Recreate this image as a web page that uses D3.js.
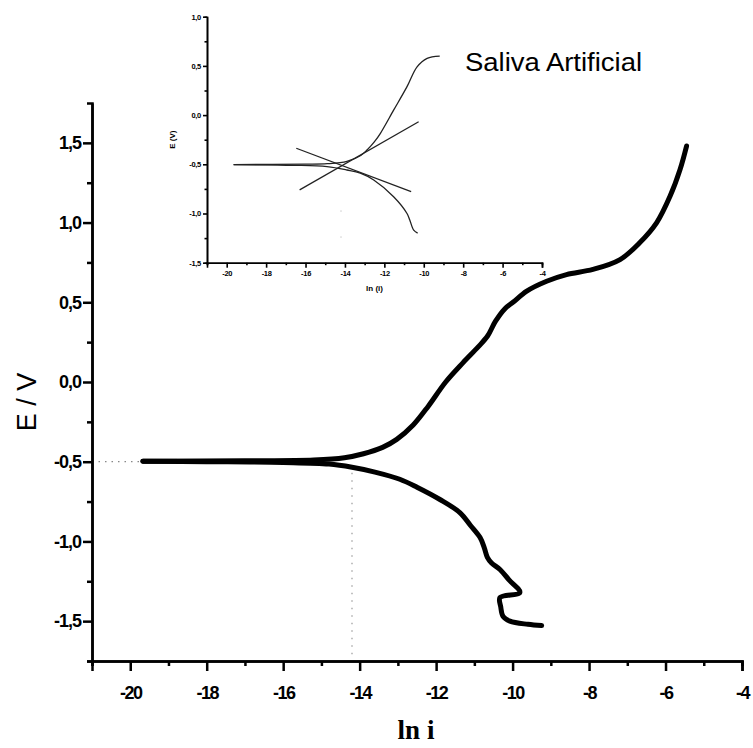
<!DOCTYPE html>
<html>
<head>
<meta charset="utf-8">
<script src="https://cdn.jsdelivr.net/npm/d3@7/dist/d3.min.js"></script>
<style>
  html, body { margin: 0; padding: 0; background: #fff; }
  svg { display: block; }
  .tick text { font-family: "Liberation Sans", Arial, sans-serif; font-weight: bold; fill: #000; }
</style>
</head>
<body>
<svg id="chart" width="753" height="748"></svg>
<script>
// Polarization curve (E vs ln i): cathodic branch traced from its far end to E_corr,
// anodic branch traced from E_corr to its far end
const cathLnI = [-9.24, -9.6, -10.07, -10.25, -10.31, -10.33, -9.81, -10.1, -10.33, -10.55, -10.66, -10.74,
  -10.85, -11.1, -11.38, -11.9, -12.5, -12.95, -13.6, -14.2, -14.8, -16.0, -18.0, -19.67];
const cathE = [-1.528, -1.52, -1.50, -1.47, -1.41, -1.352, -1.32, -1.24, -1.176, -1.135, -1.10, -1.04,
  -0.976, -0.90, -0.819, -0.737, -0.66, -0.61, -0.565, -0.535, -0.515, -0.505, -0.50, -0.497];
const anodLnI = [-19.67, -17.0, -15.2, -14.4, -13.9, -13.4, -13.03, -12.6, -12.2, -11.75, -11.3, -10.9, -10.65,
  -10.45, -10.2, -9.99, -9.63, -9.11, -8.59, -7.9, -7.19, -6.67, -6.23, -5.88, -5.62, -5.45];
const anodE = [-0.497, -0.494, -0.489, -0.475, -0.45, -0.41, -0.36, -0.27, -0.15, 0.0, 0.12, 0.22, 0.29,
  0.38, 0.46, 0.50, 0.57, 0.632, 0.674, 0.706, 0.768, 0.875, 1.0, 1.166, 1.333, 1.48];

// Main axes ticks
const mainXTicks = [-20, -18, -16, -14, -12, -10, -8, -6, -4];
const mainXMinor = [-21, -19, -17, -15, -13, -11, -9, -7, -5];
const mainYTicks = [-1.5, -1.0, -0.5, 0.0, 0.5, 1.0, 1.5];
const mainYMinor = [-1.75, -1.25, -0.75, -0.25, 0.25, 0.75, 1.25];

// E_corr / i_corr guide lines
const eCorr = -0.5;
const lnICorr = -14.2;

// Inset: measured curve (two branches) plus the two Tafel extrapolation lines
const insetCathLnI = [-10.31, -10.51, -10.71, -10.85, -11.53, -12.54, -13.22, -13.9, -14.91, -16.6, -19.65];
const insetCathE = [-1.2, -1.17, -1.066, -1.0, -0.83, -0.66, -0.59, -0.558, -0.524, -0.51, -0.503];
const insetAnodLnI = [-19.65, -16.0, -14.9, -13.9, -13.2, -12.88, -12.5, -12.2, -11.53, -10.85, -10.34, -9.83, -9.19];
const insetAnodE = [-0.503, -0.499, -0.494, -0.47, -0.41, -0.355, -0.27, -0.185, 0.05, 0.289, 0.49, 0.577, 0.60];
const tafelAnodicLnI = [-16.3, -10.26];
const tafelAnodicE = [-0.76, -0.067];
const tafelCathodicLnI = [-16.47, -10.64];
const tafelCathodicE = [-0.337, -0.778];

const insetXTicks = [-20, -18, -16, -14, -12, -10, -8, -6, -4];
const insetXMinor = [-21, -19, -17, -15, -13, -11, -9, -7, -5];
const insetYTicks = [-1.5, -1.0, -0.5, 0.0, 0.5, 1.0];
const insetYMinor = [-1.25, -0.75, -0.25, 0.25, 0.75];

const fmt = v => d3.format(".1f")(v).replace(".", ",").replace("−", "-");
const zip = (a, b) => a.map((v, i) => [v, b[i]]);

const svg = d3.select("#chart");

// ---------- main chart ----------
const x = d3.scaleLinear().domain([-21, -4]).range([92, 742]);
const y = d3.scaleLinear().domain([-1.75, 1.75]).range([661, 103]);

const main = svg.append("g");

// guide lines
main.append("line")
  .attr("x1", x(-21)).attr("x2", x(-19.7))
  .attr("y1", y(eCorr)).attr("y2", y(eCorr))
  .attr("stroke", "#888").attr("stroke-width", 1.2).attr("stroke-dasharray", "1.5,5");
main.append("line")
  .attr("x1", x(lnICorr)).attr("x2", x(lnICorr))
  .attr("y1", y(-0.57)).attr("y2", y(-1.72))
  .attr("stroke", "#999").attr("stroke-width", 1.2).attr("stroke-dasharray", "1.5,6");

// curve branches
const mainLine = d3.line().x(d => x(d[0])).y(d => y(d[1])).curve(d3.curveCatmullRom.alpha(0.5));
[zip(cathLnI, cathE), zip(anodLnI, anodE)].forEach(pts => {
  main.append("path")
    .datum(pts)
    .attr("d", mainLine)
    .attr("fill", "none").attr("stroke", "#000").attr("stroke-width", 5)
    .attr("stroke-linejoin", "round").attr("stroke-linecap", "round");
});

// axes
function styleAxis(g, w) {
  g.select(".domain").attr("stroke", "#000").attr("stroke-width", w);
  g.selectAll(".tick line").attr("stroke", "#000").attr("stroke-width", w);
}

const gxMinor = main.append("g").attr("transform", `translate(0,${y(-1.75)})`)
  .call(d3.axisBottom(x).tickValues(mainXMinor).tickSize(5).tickFormat(""));
styleAxis(gxMinor, 2.5);
const gx = main.append("g").attr("transform", `translate(0,${y(-1.75)})`)
  .call(d3.axisBottom(x).tickValues(mainXTicks).tickSize(10).tickSizeOuter(10).tickPadding(15)
    .tickFormat(d => String(d)));
styleAxis(gx, 2.5);
gx.selectAll(".tick text").attr("font-size", 18).attr("letter-spacing", "-1.5px");

const gyMinor = main.append("g").attr("transform", `translate(${x(-21)},0)`)
  .call(d3.axisLeft(y).tickValues(mainYMinor).tickSize(5).tickFormat(""));
styleAxis(gyMinor, 2.5);
const gy = main.append("g").attr("transform", `translate(${x(-21)},0)`)
  .call(d3.axisLeft(y).tickValues(mainYTicks).tickSize(9).tickSizeOuter(0).tickPadding(2).tickFormat(fmt));
styleAxis(gy, 2.5);
gy.selectAll(".tick text").attr("font-size", 18).attr("letter-spacing", "-1px");

// axis titles
main.append("text")
  .attr("transform", `translate(36,${(y(-1.75) + y(1.75)) / 2 + 20}) rotate(-90)`)
  .attr("text-anchor", "middle")
  .attr("font-family", "Liberation Sans, Arial, sans-serif")
  .attr("font-size", 27)
  .text("E / V");
main.append("text")
  .attr("x", 416).attr("y", 739)
  .attr("text-anchor", "middle")
  .attr("font-family", "Liberation Serif, Times New Roman, serif")
  .attr("font-weight", "bold")
  .attr("font-size", 27)
  .text("ln i");

// ---------- inset ----------
const ix = d3.scaleLinear().domain([-21, -4]).range([207, 542]);
const iy = d3.scaleLinear().domain([-1.5, 1.0]).range([262.7, 16.7]);
const inset = svg.append("g");

inset.append("line")
  .attr("x1", ix(-14.2)).attr("x2", ix(-14.2))
  .attr("y1", iy(-0.97)).attr("y2", iy(-1.26))
  .attr("stroke", "#aaa").attr("stroke-width", 1).attr("stroke-dasharray", "1,25");

const insetCurve = d3.line().x(d => ix(d[0])).y(d => iy(d[1])).curve(d3.curveCatmullRom.alpha(0.5));
[zip(insetCathLnI, insetCathE), zip(insetAnodLnI, insetAnodE)].forEach(pts => {
  inset.append("path")
    .datum(pts)
    .attr("d", insetCurve)
    .attr("fill", "none").attr("stroke", "#222").attr("stroke-width", 1.3);
});

const straight = d3.line().x(d => ix(d[0])).y(d => iy(d[1]));
[zip(tafelAnodicLnI, tafelAnodicE), zip(tafelCathodicLnI, tafelCathodicE)].forEach(pts => {
  inset.append("path")
    .datum(pts)
    .attr("d", straight)
    .attr("fill", "none").attr("stroke", "#222").attr("stroke-width", 1.3);
});

const ixMinor = inset.append("g").attr("transform", `translate(0,${iy(-1.5)})`)
  .call(d3.axisBottom(ix).tickValues(insetXMinor).tickSize(2.5).tickFormat(""));
styleAxis(ixMinor, 1.6);
const ixg = inset.append("g").attr("transform", `translate(0,${iy(-1.5)})`)
  .call(d3.axisBottom(ix).tickValues(insetXTicks).tickSize(5).tickSizeOuter(5).tickPadding(3)
    .tickFormat(d => String(d)));
styleAxis(ixg, 1.6);
ixg.selectAll(".tick text").attr("font-size", 7.5).attr("letter-spacing", "-0.3px");

const iyMinor = inset.append("g").attr("transform", `translate(${ix(-21)},0)`)
  .call(d3.axisLeft(iy).tickValues(insetYMinor).tickSize(2.5).tickFormat(""));
styleAxis(iyMinor, 1.6);
const iyg = inset.append("g").attr("transform", `translate(${ix(-21)},0)`)
  .call(d3.axisLeft(iy).tickValues(insetYTicks).tickSize(4).tickSizeOuter(0).tickPadding(2).tickFormat(fmt));
styleAxis(iyg, 1.6);
iyg.selectAll(".tick text").attr("font-size", 7.5).attr("letter-spacing", "-0.3px");

inset.append("text")
  .attr("transform", `translate(175,${iy(-0.25)}) rotate(-90)`)
  .attr("text-anchor", "middle")
  .attr("font-family", "Liberation Sans, Arial, sans-serif")
  .attr("font-weight", "bold")
  .attr("font-size", 8)
  .text("E (V)");
inset.append("text")
  .attr("x", ix(-12.5)).attr("y", 291)
  .attr("text-anchor", "middle")
  .attr("font-family", "Liberation Sans, Arial, sans-serif")
  .attr("font-weight", "bold")
  .attr("font-size", 8)
  .text("ln (i)");

// inset title
svg.append("text")
  .attr("x", 465).attr("y", 71)
  .attr("font-family", "Liberation Sans, Arial, sans-serif")
  .attr("font-size", 25)
  .attr("textLength", 177)
  .attr("lengthAdjust", "spacingAndGlyphs")
  .text("Saliva Artificial");
</script>
</body>
</html>
